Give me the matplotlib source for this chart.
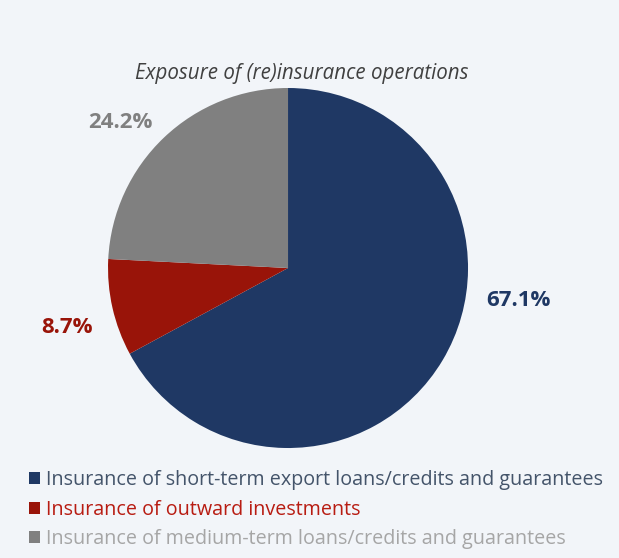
import matplotlib.pyplot as plt
from matplotlib.patches import Patch

categories = ["Insurance of short-term export loans/credits and guarantees",
              "Insurance of outward investments",
              "Insurance of medium-term loans/credits and guarantees"]
shares = [67.1, 8.7, 24.2]
colors = ["#1f3864", "#991409", "#808080"]
text_colors = ["#44546a", "#b81c12", "#a6a6a6"]
label_pos = [(1.28, -0.18), (-1.23, -0.33), (-0.93, 0.81)]     # label spots in pie units

plt.rcParams['font.family'] = ['Open Sans', 'DejaVu Sans']

fig = plt.figure(figsize=(6.19, 5.58), dpi=100)
fig.patch.set_facecolor("#f2f5f9")

ax = fig.add_axes([0.4653 - 0.2908, 0.5197 - 0.3226, 0.5816, 0.6452])
ax.pie(shares, colors=colors, startangle=90, counterclock=False, radius=1,
       wedgeprops=dict(linewidth=0))
ax.set_xlim(-1, 1)
ax.set_ylim(-1, 1)
ax.set_aspect("equal")
ax.axis("off")

for v, c, (x, y) in zip(shares, colors, label_pos):
    ax.text(x, y, f"{v:.1f}%", color=c, fontsize=16, fontweight="bold",
            ha="center", va="center", clip_on=False)

fig.text(0.487, 0.868, "Exposure of (re)insurance operations", ha="center", va="center",
         fontsize=14.8, style="italic", color="#404040")

handles = [Patch(facecolor=c) for c in colors]
leg = fig.legend(handles, categories, loc="upper left", bbox_to_anchor=(0.047, 0.157),
                 frameon=False, fontsize=14.2, handlelength=0.55, handleheight=0.55,
                 handletextpad=0.3, labelspacing=0.47, borderpad=0, borderaxespad=0)
for t, c in zip(leg.get_texts(), text_colors):
    t.set_color(c)

fig.savefig("out.png", dpi=100, facecolor=fig.get_facecolor())
